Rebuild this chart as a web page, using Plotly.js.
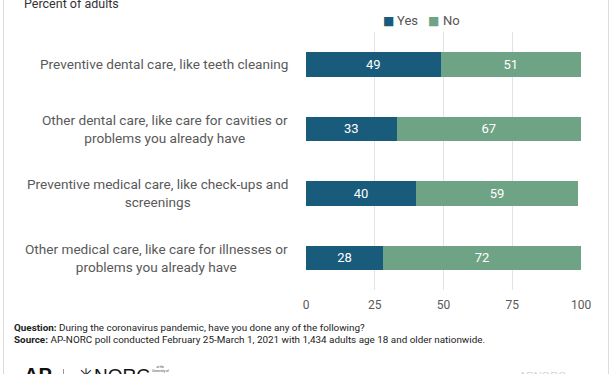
<!DOCTYPE html>
<html>
<head>
<meta charset="utf-8">
<script src="https://cdn.plot.ly/plotly-3.0.1.min.js"></script>
<style>html,body{margin:0;padding:0;background:#fff;}#chart{width:612px;height:374px;}</style>
</head>
<body>
<div id="chart"></div>
<script>
const categories = [
  "Preventive dental care, like teeth cleaning",
  "Other dental care, like care for cavities or<br>problems you already have",
  "Preventive medical care, like check-ups and<br>screenings",
  "Other medical care, like care for illnesses or<br>problems you already have"
];
const yesValues = [49, 33, 40, 28];
const noValues = [51, 67, 59, 72];
const tickVals = [0, 25, 50, 75, 100];
const seriesNames = ["Yes", "No"];

const yesColor = "#185b7b";
const noColor = "#6ea385";
const ids = categories.map((c, i) => "c" + i);

const traces = [
  {
    type: "bar", orientation: "h", name: seriesNames[0],
    y: ids, x: yesValues, text: yesValues.map(String),
    textposition: "inside", insidetextanchor: "middle",
    textfont: {color: "#ffffff", size: 13, family: "Roboto"},
    marker: {color: yesColor}, hoverinfo: "none"
  },
  {
    type: "bar", orientation: "h", name: seriesNames[1],
    y: ids, x: noValues, text: noValues.map(String),
    textposition: "inside", insidetextanchor: "middle",
    textfont: {color: "#ffffff", size: 13, family: "Roboto"},
    marker: {color: noColor}, hoverinfo: "none"
  }
];

const L = 306, W = 275, T = 32, H = 258;
const px = v => (v - L) / W;
const py = v => (T + H - v) / H;

const annotations = categories.map((c, i) => ({
  xref: "paper", yref: "y", x: px(290), y: ids[i],
  xanchor: "right", yanchor: "middle", align: "center",
  text: c, showarrow: false,
  font: {family: "Roboto", size: 13.6, color: "#595959"}
}));

// legend drawn as text
const legendItems = [
  {name: seriesNames[0], color: yesColor, sq: 388, tx: 395},
  {name: seriesNames[1], color: noColor, sq: 433, tx: 441}
];
legendItems.forEach(it => {
  annotations.push(
    {xref: "paper", yref: "paper", x: px(it.sq), y: py(21), xanchor: "center", yanchor: "middle",
     text: "■", showarrow: false, font: {family: "DejaVu Sans", size: 12, color: it.color}},
    {xref: "paper", yref: "paper", x: px(it.tx), y: py(21), xanchor: "left", yanchor: "middle",
     text: it.name, showarrow: false, font: {family: "Roboto", size: 13, color: "#555555"}}
  );
});

annotations.push(
  {xref: "paper", yref: "paper", x: px(22), y: py(3), xanchor: "left", yanchor: "middle",
   text: "Percent of adults", showarrow: false,
   font: {family: "Roboto", size: 12.5, color: "#333333"}},
  {xref: "paper", yref: "paper", x: px(12), y: py(327), xanchor: "left", yanchor: "middle",
   text: "<b>Question:</b> During the coronavirus pandemic, have you done any of the following?", showarrow: false,
   font: {family: "Roboto", size: 9.9, color: "#222222"}},
  {xref: "paper", yref: "paper", x: px(12), y: py(339), xanchor: "left", yanchor: "middle",
   text: "<b>Source:</b> AP-NORC poll conducted February 25-March 1, 2021 with 1,434 adults age 18 and older nationwide.", showarrow: false,
   font: {family: "Roboto", size: 9.9, color: "#222222"}},
  {xref: "paper", yref: "paper", x: px(22), y: py(375), xanchor: "left", yanchor: "middle",
   text: "<b>AP</b>", showarrow: false,
   font: {family: "Arial", size: 20, color: "#111111"}},
  {xref: "paper", yref: "paper", x: px(76), y: py(375), xanchor: "left", yanchor: "middle",
   text: "✳NORC", showarrow: false,
   font: {family: "Arial", size: 19, color: "#111111"}},
  {xref: "paper", yref: "paper", x: px(150), y: py(369), xanchor: "left", yanchor: "middle",
   text: "at the<br>University of", showarrow: false,
   font: {family: "Arial", size: 3, color: "#333333"}},
  {xref: "paper", yref: "paper", x: px(517), y: py(376), xanchor: "left", yanchor: "middle",
   text: "APNORC", showarrow: false,
   font: {family: "Arial", size: 11, color: "#d4d4d4"}}
);

const shapes = [
  {type: "line", xref: "paper", yref: "paper", x0: px(3.5), x1: px(3.5), y0: -2, y1: 2,
   line: {color: "#dcdcdc", width: 1}},
  {type: "line", xref: "paper", yref: "paper", x0: px(608.5), x1: px(608.5), y0: -2, y1: 2,
   line: {color: "#dcdcdc", width: 1}},
  {type: "line", xref: "paper", yref: "paper", x0: px(63.5), x1: px(63.5), y0: py(369), y1: py(385),
   line: {color: "#999999", width: 1}}
];

const layout = {
  width: 612, height: 374,
  margin: {l: L, r: 612 - L - W, t: T, b: 374 - T - H, pad: 0},
  paper_bgcolor: "#ffffff", plot_bgcolor: "#ffffff",
  barmode: "stack", bargap: 0.62,
  showlegend: false,
  xaxis: {range: [0, 100], tickvals: tickVals, showgrid: true, gridcolor: "#e3e3e3", gridwidth: 1,
    zeroline: false, showline: false, ticks: "outside", ticklen: 4, tickcolor: "rgba(0,0,0,0)",
    tickfont: {family: "Roboto", size: 12, color: "#595959"}, fixedrange: true, automargin: false},
  yaxis: {categoryorder: "array", categoryarray: ids.slice().reverse(), showticklabels: false,
    showgrid: false, zeroline: false, showline: false, ticks: "", fixedrange: true, automargin: false},
  annotations: annotations, shapes: shapes,
  font: {family: "Roboto"}
};

Plotly.newPlot("chart", traces, layout, {displayModeBar: false, staticPlot: true});
</script>
</body>
</html>
